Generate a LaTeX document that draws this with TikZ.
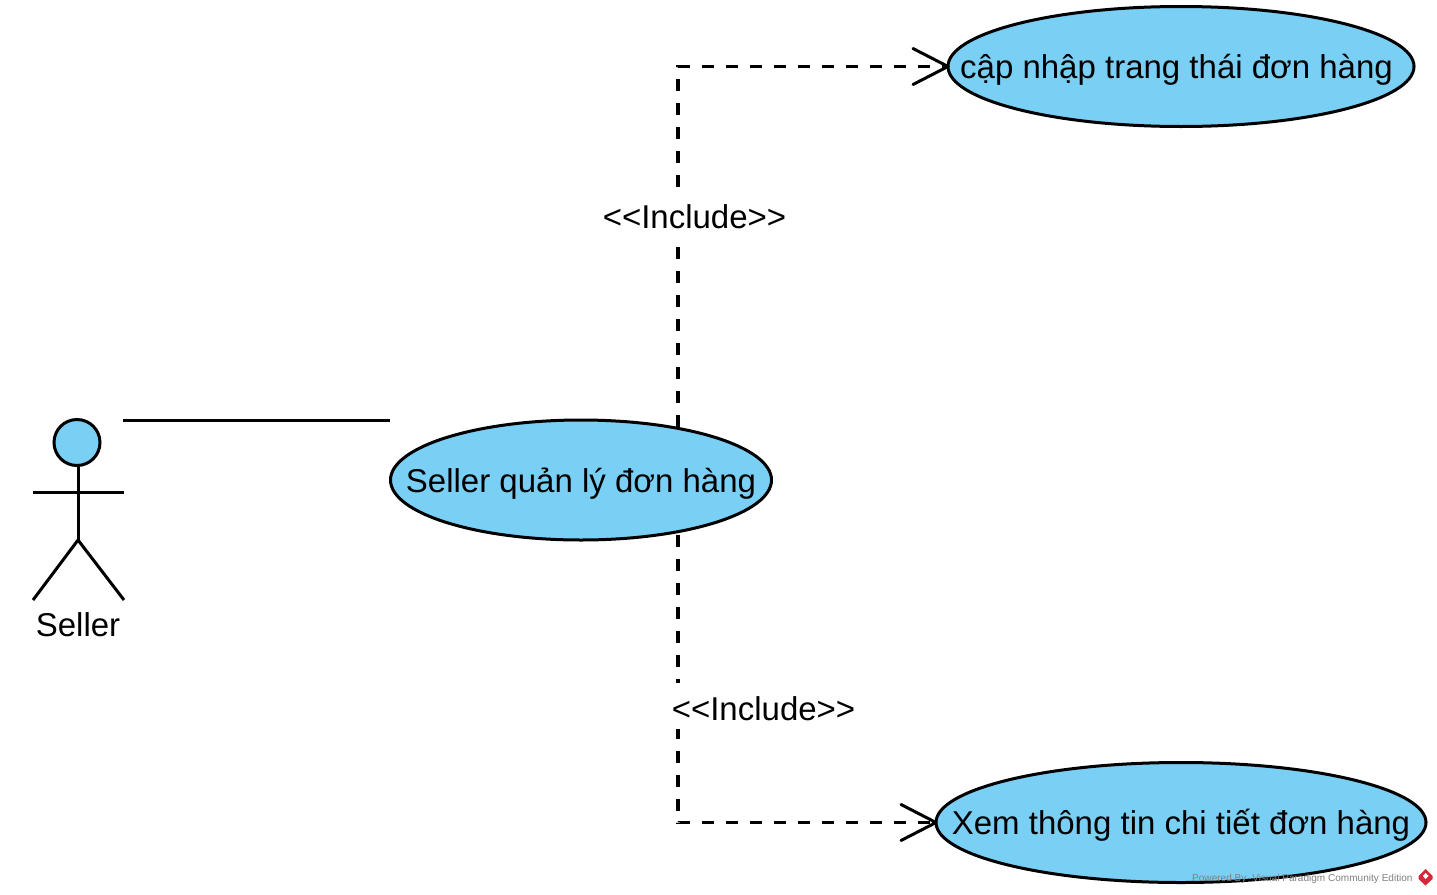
\documentclass[tikz,border=0pt]{standalone}
\usepackage{fontspec}
\setmainfont{Liberation Sans}
\usetikzlibrary{shapes.geometric,arrows.meta}
\definecolor{ucblue}{RGB}{122,207,245}
\definecolor{vpred}{RGB}{214,40,57}
\newcommand{\uctext}[2][0pt]{\raisebox{-12pt}[0pt][0pt]{\makebox[0pt]{\hspace*{#1}#2}}}
\tikzset{
  x=1pt,y=-1pt,
  every path/.style={line width=3pt,line cap=butt},
  usecase/.style={ellipse,draw=black,fill=ucblue,inner sep=0pt,outer sep=0pt,font=\fontsize{33}{36}\selectfont},
  include/.style={draw=black,line width=3.4pt,dash pattern=on 12pt off 12pt,shorten >=-1.5pt,-{Straight Barb[length=35pt,width=36pt,line width=3pt,round]}},
  incl/.style={fill=white,inner sep=0pt,text height=37pt,text depth=9pt,font=\fontsize{33}{36}\selectfont},
  stick/.style={draw=black,line width=3pt},
}
\begin{document}
\begin{tikzpicture}
\useasboundingbox (0,0) rectangle (1437,894);
\node[usecase,minimum width=466pt,minimum height=120pt] (upd) at (1181,66.5) {\uctext[-9pt]{cập nhập trang thái đơn hàng}};
\node[usecase,minimum width=381pt,minimum height=120pt] (mgr) at (581,480) {\uctext{Seller quản lý đơn hàng}};
\node[usecase,minimum width=490pt,minimum height=120pt] (view) at (1181,822.5) {\uctext{Xem thông tin chi tiết đơn hàng}};
% actor
\node[circle,draw=black,fill=ucblue,line width=3pt,minimum size=46pt,inner sep=0pt,outer sep=0pt] (head) at (77,442.5) {};
\coordinate (neck) at (78,465);
\coordinate (hip) at (78,540);
\coordinate (armL) at (33,492);
\coordinate (armR) at (124,492);
\coordinate (footL) at (33,600);
\coordinate (footR) at (124,600);
\draw[stick] (neck) -- (hip);
\draw[stick] (armL) -- (armR);
\draw[stick] (footL) -- (hip) -- (footR);
\node[font=\fontsize{33}{36}\selectfont,inner sep=0pt] (sellerlabel) at (78,625) {Seller};
% association
\coordinate (assocA) at (123,420.5);
\coordinate (assocB) at (390,420.5);
\draw[draw=black] (assocA) -- (assocB);
% includes
\coordinate (upO) at (678,426.5);
\coordinate (upC) at (678,66.5);
\coordinate (dnO) at (678,534.5);
\coordinate (dnC) at (678,822.5);
\draw[include] (upO) -- (upC) -- (upd.west);
\draw[include] (dnO) -- (dnC) -- (view.west);
\node[incl] (l1) at (694.5,214.5) {{<}{<}Include{>}{>}};
\node[incl] (l2) at (763.5,706) {{<}{<}Include{>}{>}};
% watermark
\node[anchor=east,inner sep=0pt,text=black!50,font=\fontsize{10.05}{12}\selectfont] (wm) at (1414,878.5) {Powered By\hspace{6pt}Visual Paradigm Community Edition};
\fill[vpred,line width=0pt] (1425.5,869) -- (1432.5,876) -- (1432.5,879) -- (1425.5,885.5) -- (1418.5,879) -- (1418.5,876) -- cycle;
\fill[white,line width=0pt] (1425.5,873) -- (1428.5,876) -- (1425.5,879) -- (1423,876) -- cycle;
\end{tikzpicture}
\end{document}
